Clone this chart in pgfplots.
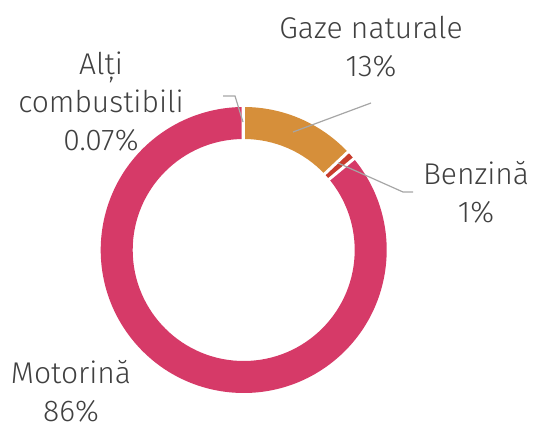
\documentclass[border=0pt]{standalone}
\usepackage{pgfplots}
\pgfplotsset{compat=1.18}
\usepackage{fontspec}
\setmainfont{Fira Sans}[UprightFont=* Light]
\definecolor{cGaze}{RGB}{214,143,58}
\definecolor{cBenz}{RGB}{200,60,45}
\definecolor{cMot}{RGB}{214,58,104}
\definecolor{cAlti}{RGB}{150,150,150}
\definecolor{txt}{RGB}{64,64,64}
\definecolor{lead}{RGB}{166,166,166}

% data (shares, %)
\def\vGaze{13}\def\vBenz{1}\def\vMot{86}\def\vAlti{0.07}
\def\cx{243.7}\def\cy{180}\def\Ro{143}\def\Ri{111}
\pgfmathsetmacro\tot{\vGaze+\vBenz+\vMot+\vAlti}
\pgfmathsetmacro\aA{90}
\pgfmathsetmacro\aB{\aA-\vGaze/\tot*360}
\pgfmathsetmacro\aC{\aB-\vBenz/\tot*360}
\pgfmathsetmacro\aD{\aC-\vMot/\tot*360}
\pgfmathsetmacro\aE{\aD-\vAlti/\tot*360}

\newcommand{\seg}[3]{%
 \fill[#1] (axis cs:{\cx+\Ro*cos(#2)},{\cy+\Ro*sin(#2)}) arc[start angle=#2, end angle=#3, radius=\Ro bp]
   -- (axis cs:{\cx+\Ri*cos(#3)},{\cy+\Ri*sin(#3)}) arc[start angle=#3, end angle=#2, radius=\Ri bp] -- cycle;}
\newcommand{\gap}[1]{%
 \draw[white, line width=3bp] (axis cs:{\cx+(\Ri-2)*cos(#1)},{\cy+(\Ri-2)*sin(#1)}) -- (axis cs:{\cx+(\Ro+2)*cos(#1)},{\cy+(\Ro+2)*sin(#1)});}
\tikzset{lbl/.style={font=\fontsize{30bp}{38bp}\selectfont, align=center, anchor=base, text=txt, inner sep=0pt}}

\begin{document}
\begin{tikzpicture}
\begin{axis}[hide axis, scale only axis, width=537bp, height=430bp,
  xmin=0, xmax=537, ymin=0, ymax=430, clip=false]
\path (axis cs:0,0) rectangle (axis cs:537,430);
\seg{cGaze}{\aA}{\aB}
\seg{cBenz}{\aB}{\aC}
\seg{cMot}{\aC}{\aD}
\seg{cAlti}{\aD}{\aE}
\gap{\aA}\gap{\aB}\gap{\aC}\gap{\aD}
\addplot[lead, line width=1.2bp, no markers] coordinates {(293,298) (371,327)};
\addplot[lead, line width=1.2bp, no markers] coordinates {(243,308) (235,334) (223,334)};
\addplot[lead, line width=1.2bp, no markers] coordinates {(338,267) (403,238) (413,238)};
\node[lbl] at (axis cs:371,354) {Gaze naturale\\13\%};
\node[lbl] at (axis cs:101,280) {Alți\\combustibili\\0.07\%};
\node[lbl] at (axis cs:476,208) {Benzină\\1\%};
\node[lbl] at (axis cs:71,9) {Motorină\\86\%};
\end{axis}
\end{tikzpicture}
\end{document}
